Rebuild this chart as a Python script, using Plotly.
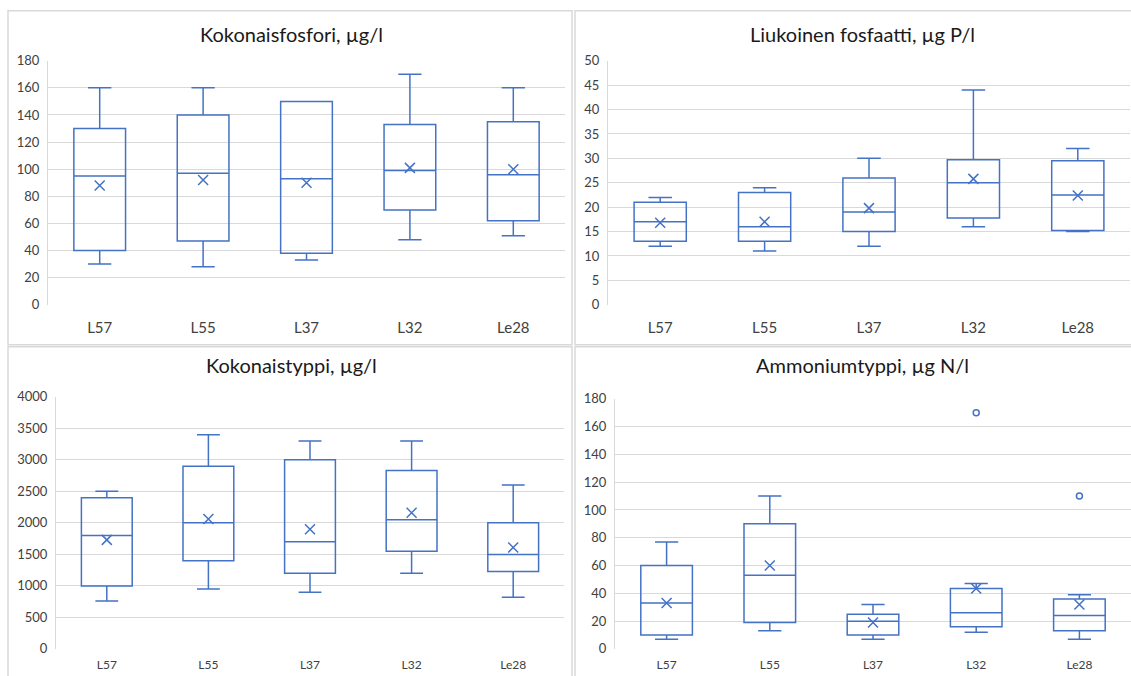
import plotly.graph_objects as go

W, H = 1131, 676

categories = ["L57", "L55", "L37", "L32", "Le28"]

titles = ["Kokonaisfosfori, µg/l", "Liukoinen fosfaatti, µg P/l",
          "Kokonaistyppi, µg/l", "Ammoniumtyppi, µg N/l"]

# Kokonaisfosfori
p1_low = [30, 28, 33, 48, 51]
p1_q1 = [40, 47, 38, 70, 62]
p1_med = [95, 97, 93, 99, 96]
p1_q3 = [130, 140, 150, 133, 135]
p1_high = [160, 160, 150, 170, 160]
p1_mean = [88, 92, 90, 101, 100]

# Liukoinen fosfaatti
p2_low = [12, 11, 12, 16, 15]
p2_q1 = [13, 13, 15, 17.8, 15.2]
p2_med = [17, 16, 19, 25, 22.5]
p2_q3 = [21, 23, 26, 29.7, 29.5]
p2_high = [22, 24, 30, 44, 32]
p2_mean = [16.8, 17, 19.8, 25.8, 22.4]

# Kokonaistyppi
p3_low = [760, 950, 900, 1200, 820]
p3_q1 = [1000, 1400, 1200, 1550, 1230]
p3_med = [1800, 2000, 1700, 2050, 1500]
p3_q3 = [2400, 2900, 3000, 2830, 2000]
p3_high = [2500, 3400, 3300, 3300, 2600]
p3_mean = [1730, 2060, 1900, 2160, 1610]

# Ammoniumtyppi
p4_low = [7, 13, 7, 12, 7]
p4_q1 = [10, 19, 10, 16, 13]
p4_med = [33, 53, 20, 26, 24]
p4_q3 = [60, 90, 25, 43.5, 36]
p4_high = [77, 110, 32, 47, 39]
p4_mean = [33, 60, 19, 43.5, 32]
p4_out_cat = ["L32", "Le28"]
p4_out_val = [170, 110]

panels = [
    dict(low=p1_low, q1=p1_q1, med=p1_med, q3=p1_q3, high=p1_high, mean=p1_mean,
         ymax=180, dtick=20, px=(48, 565), py=(60, 304), title_xy=(291, 33), xfs=15, stand=12),
    dict(low=p2_low, q1=p2_q1, med=p2_med, q3=p2_q3, high=p2_high, mean=p2_mean,
         ymax=50, dtick=5, px=(608, 1130), py=(60, 304), title_xy=(862, 33), xfs=15, stand=12),
    dict(low=p3_low, q1=p3_q1, med=p3_med, q3=p3_q3, high=p3_high, mean=p3_mean,
         ymax=4000, dtick=500, px=(56, 564), py=(396, 648), title_xy=(291, 364), xfs=12, stand=7),
    dict(low=p4_low, q1=p4_q1, med=p4_med, q3=p4_q3, high=p4_high, mean=p4_mean,
         ymax=180, dtick=20, px=(615, 1131), py=(398, 648), title_xy=(862, 364), xfs=12, stand=7),
]

BLUE = "#4472C4"
GRID = "#D9D9D9"
TICK = "#404040"
FONT = "Lato"

# vertical calibration of the capture (observed offset/scale)
Y_OFF, Y_SCALE = 7.3, 0.976


def py2paper(y):
    yi = (y - Y_OFF) / Y_SCALE
    return 1 - yi / H


fig = go.Figure()
layout = dict(
    width=W, height=H, margin=dict(l=0, r=0, t=0, b=0),
    paper_bgcolor="white", plot_bgcolor="white", showlegend=False,
    font=dict(family=FONT, color=TICK),
)

annotations = []
shapes = []
for i, p in enumerate(panels):
    n = i + 1
    xa = "x" if n == 1 else f"x{n}"
    ya = "y" if n == 1 else f"y{n}"
    fig.add_trace(go.Box(
        x=categories, q1=p["q1"], median=p["med"], q3=p["q3"],
        lowerfence=p["low"], upperfence=p["high"],
        width=0.5, whiskerwidth=0.45,
        line=dict(color=BLUE, width=1.5), fillcolor="rgba(255,255,255,0)",
        boxpoints=False, xaxis=xa, yaxis=ya, hoverinfo="skip",
    ))
    fig.add_trace(go.Scatter(
        x=categories, y=p["mean"], mode="markers",
        marker=dict(symbol="x-thin-open", size=10, color=BLUE, line=dict(color=BLUE, width=1.5)),
        xaxis=xa, yaxis=ya, hoverinfo="skip",
    ))
    if n == 4:
        fig.add_trace(go.Scatter(
            x=p4_out_cat, y=p4_out_val, mode="markers",
            marker=dict(symbol="circle-open", size=6, color=BLUE, line=dict(color=BLUE, width=1.5)),
            xaxis=xa, yaxis=ya, hoverinfo="skip",
        ))
    xk = "xaxis" if n == 1 else f"xaxis{n}"
    yk = "yaxis" if n == 1 else f"yaxis{n}"
    layout[xk] = dict(
        domain=[p["px"][0] / W, p["px"][1] / W], anchor=ya,
        type="category", categoryorder="array", categoryarray=categories,
        range=[-0.5, 4.5], showgrid=False, zeroline=False, showline=False,
        ticks="", tickfont=dict(size=p["xfs"], color=TICK, family=FONT),
        ticklabelstandoff=p["stand"], fixedrange=True,
    )
    layout[yk] = dict(
        domain=[py2paper(p["py"][1]), py2paper(p["py"][0])], anchor=xa,
        range=[0, p["ymax"]], dtick=p["dtick"], tick0=0,
        showgrid=True, gridcolor=GRID, gridwidth=1, zeroline=False,
        showline=True, linecolor=GRID, linewidth=1,
        ticks="", tickfont=dict(size=13, color=TICK, family=FONT),
        ticklabelstandoff=5, fixedrange=True,
    )
    annotations.append(dict(
        x=p["title_xy"][0] / W, y=py2paper(p["title_xy"][1]), xref="paper", yref="paper",
        text=titles[i], showarrow=False, xanchor="center", yanchor="middle",
        font=dict(size=20, color="#1a1a1a", family=FONT),
    ))

# panel frames
frames = [(8, 10, 572, 344), (575, 10, 1135, 344), (8, 346, 572, 700), (575, 346, 1135, 700)]
for (x0, y0, x1, y1) in frames:
    shapes.append(dict(type="rect", xref="paper", yref="paper",
                       x0=x0 / W, x1=x1 / W, y0=py2paper(y1), y1=py2paper(y0),
                       line=dict(color="#D9D9D9", width=1.5), fillcolor="rgba(0,0,0,0)", layer="below"))

layout["annotations"] = annotations
layout["shapes"] = shapes
fig.update_layout(**layout)

post_js = """
var st = document.createElement('style');
st.innerHTML = 'html,body{margin:0!important;padding:0!important;overflow:hidden!important;width:1131px;height:676px;} body>div{margin:0;padding:0;}';
document.head.appendChild(st);
"""
fig.write_html(
    "out.html",
    config={"displayModeBar": False, "responsive": False},
    post_script=post_js,
)
